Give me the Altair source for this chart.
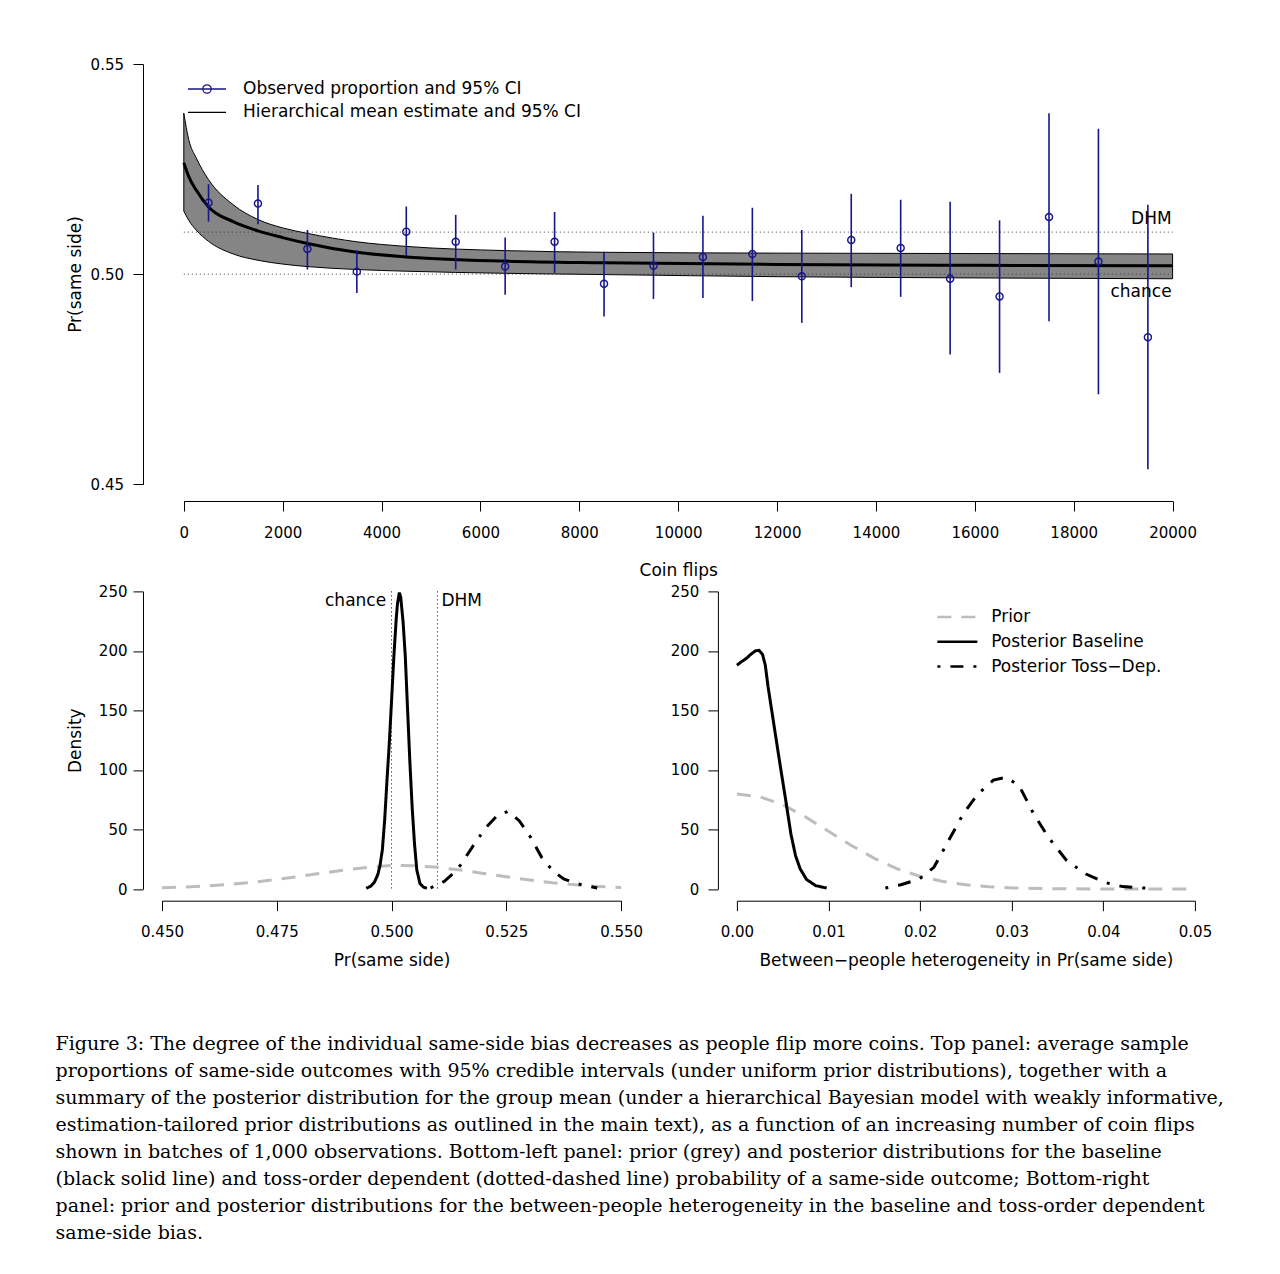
import altair as alt
import numpy as np
import pandas as pd

FONT = "DejaVu Sans"
SERIF = "DejaVu Serif"
NAVY = "#16168a"
BAND = "#858585"
PRIOR_GREY = "#bdbdbd"

# ---------------- top panel: observed batches of 1,000 flips ----------------
batch_mid = [500, 1500, 2500, 3500, 4500, 5500, 6500, 7500, 8500, 9500,
             10500, 11500, 12500, 13500, 14500, 15500, 16500, 17500, 18500, 19500]
obs_prop = [0.5170, 0.5168, 0.5060, 0.5006, 0.5101, 0.5077, 0.5018, 0.5077, 0.4977, 0.5020,
            0.5041, 0.5048, 0.4995, 0.5081, 0.5062, 0.4989, 0.4947, 0.5136, 0.5030, 0.4850]
obs_lo = [0.5125, 0.5119, 0.5011, 0.4955, 0.5042, 0.5011, 0.4951, 0.5003, 0.4899, 0.4941,
          0.4943, 0.4936, 0.4884, 0.4969, 0.4946, 0.4809, 0.4765, 0.4888, 0.4714, 0.4536]
obs_hi = [0.5214, 0.5212, 0.5105, 0.5057, 0.5161, 0.5141, 0.5087, 0.5148, 0.5053, 0.5099,
          0.5139, 0.5158, 0.5105, 0.5191, 0.5177, 0.5172, 0.5128, 0.5383, 0.5346, 0.5165]

# hierarchical mean estimate and 95% CI
hier_flips = [0, 100, 250, 500, 1000, 1500, 2000, 2500, 3500, 4500, 6500, 8500, 12000, 16000, 20000]
hier_mean = [0.5265, 0.5232, 0.5200, 0.5160, 0.5125, 0.5103, 0.5087, 0.5073, 0.5052, 0.5041,
             0.5031, 0.5027, 0.5023, 0.5021, 0.5020]
hier_lo = [0.5150, 0.5128, 0.5105, 0.5078, 0.5048, 0.5033, 0.5024, 0.5018, 0.5011, 0.5007,
           0.5002, 0.4999, 0.4994, 0.4991, 0.4989]
hier_hi = [0.5383, 0.5320, 0.5277, 0.5225, 0.5165, 0.5130, 0.5110, 0.5097, 0.5077, 0.5066,
           0.5056, 0.5052, 0.5050, 0.5049, 0.5048]

ref_names = ["DHM", "chance"]
ref_values = [0.51, 0.50]
flip_start = [0, 0]
flip_end = [20000, 20000]

top_legend_names = ["Observed proportion and 95% CI", "Hierarchical mean estimate and 95% CI"]

# ---------------- bottom-left: Pr(same side) densities ----------------
bl_prior_x = [0.450, 0.455, 0.460, 0.465, 0.470, 0.475, 0.480, 0.485, 0.490, 0.495, 0.500,
              0.505, 0.510, 0.515, 0.520, 0.525, 0.530, 0.535, 0.540, 0.545, 0.550]
bl_prior_d = [1.0, 1.6, 2.6, 4.0, 5.8, 8.0, 10.6, 13.4, 16.0, 18.3, 19.8,
              19.6, 18.2, 15.9, 13.1, 10.3, 7.6, 5.3, 3.5, 2.2, 1.3]
bl_base_x = [0.4945, 0.4955, 0.4963, 0.4970, 0.4975, 0.4980, 0.4985, 0.4990, 0.4995, 0.5000,
             0.5005, 0.5010, 0.5013, 0.5017, 0.5020, 0.5025, 0.5030, 0.5035, 0.5040, 0.5045,
             0.5050, 0.5055, 0.5062, 0.5070, 0.5077]
bl_base_d = [0.5, 2.5, 6, 12, 20, 33, 58, 91, 122, 158,
             195, 226, 240, 249, 245, 225, 195, 150, 106, 68,
             38, 16, 4.5, 1.5, 0.6]
bl_toss_x = [0.5085, 0.5097, 0.5115, 0.5133, 0.5150, 0.5166, 0.5186, 0.5206, 0.5230, 0.5254,
             0.5278, 0.5303, 0.5327, 0.5351, 0.5375, 0.5407, 0.5448]
bl_toss_d = [1.0, 2.8, 6.5, 12.6, 20, 29.4, 41, 51.8, 61.6, 65.2,
             57.4, 43.4, 26.6, 15.4, 8.4, 4.2, 0.8]

# ---------------- bottom-right: between-people heterogeneity ----------------
br_prior_x = [0.0, 0.0025, 0.005, 0.0075, 0.01, 0.0125, 0.015, 0.0175, 0.02, 0.0225,
              0.025, 0.0275, 0.03, 0.035, 0.04, 0.045, 0.05]
br_prior_d = [79.8, 77.5, 70.8, 60.5, 48.5, 36.5, 25.8, 17.0, 10.6, 6.3,
              3.5, 1.8, 0.9, 0.2, 0.05, 0.0, 0.0]
br_base_x = [0.0, 0.0005, 0.0010, 0.0015, 0.0020, 0.0024, 0.0028, 0.0031, 0.0034, 0.0037,
             0.0041, 0.0047, 0.0053, 0.0059, 0.0064, 0.0069, 0.0076, 0.0086, 0.0098]
br_base_d = [188, 191, 193.5, 197, 200, 200.5, 197, 188, 170, 155,
             135, 105, 76, 46, 28, 17, 8, 2.8, 0.8]
br_toss_x = [0.0162, 0.0179, 0.0199, 0.0215, 0.0231, 0.0247, 0.0263, 0.0280, 0.0294, 0.0308,
             0.0324, 0.0340, 0.0360, 0.0381, 0.0401, 0.0421, 0.0449]
br_toss_d = [0.8, 3.6, 8.4, 18.2, 40.6, 63, 79.8, 91.5, 93.8, 86.8,
             63, 43.4, 23.8, 12.6, 5.6, 2.0, 0.6]

dens_series = ["Prior", "Posterior Baseline", "Posterior Toss\u2212Dep."]

caption_lines = [
    "Figure 3: The degree of the individual same-side bias decreases as people flip more coins. Top panel: average sample",
    "proportions of same-side outcomes with 95% credible intervals (under uniform prior distributions), together with a",
    "summary of the posterior distribution for the group mean (under a hierarchical Bayesian model with weakly informative,",
    "estimation-tailored prior distributions as outlined in the main text), as a function of an increasing number of coin flips",
    "shown in batches of 1,000 observations. Bottom-left panel: prior (grey) and posterior distributions for the baseline",
    "(black solid line) and toss-order dependent (dotted-dashed line) probability of a same-side outcome; Bottom-right",
    "panel: prior and posterior distributions for the between-people heterogeneity in the baseline and toss-order dependent",
    "same-side bias.",
]

# ---------------- tables ----------------
obs_df = pd.DataFrame({"flips": batch_mid, "prop": obs_prop, "lo": obs_lo, "hi": obs_hi})
hier_df = pd.DataFrame({"flips": hier_flips, "mean": hier_mean, "lo": hier_lo, "hi": hier_hi})
ref_df = pd.DataFrame({"name": ref_names, "value": ref_values, "start": flip_start, "end": flip_end})
leg_df = pd.DataFrame({"series": top_legend_names, "flips": [np.nan] * 2, "prop": [np.nan] * 2})


def dens_table(xs, ds):
    rows = []
    for name, xv, dv in zip(dens_series, xs, ds):
        for a, b in zip(xv, dv):
            rows.append({"series": name, "x": a, "d": b})
    return pd.DataFrame(rows)


bl_df = dens_table([bl_prior_x, bl_base_x, bl_toss_x], [bl_prior_d, bl_base_d, bl_toss_d])
br_df = dens_table([br_prior_x, br_base_x, br_toss_x], [br_prior_d, br_base_d, br_toss_d])

# ---------------- top panel ----------------
xs_top = alt.Scale(domain=[0, 20000], range=[21.8, 1010.6], nice=False, zero=False)
ys_top = alt.Scale(domain=[0.45, 0.55], nice=False, zero=False)
ax_top_x = alt.Axis(title="Coin flips", values=list(range(0, 20001, 2000)), format="d",
                    offset=16.7, tickSize=10, labelPadding=14.2, labelFlush=False,
                    labelOverlap=False, titleY=74, titleBaseline="alphabetic", grid=False)
ax_top_y = alt.Axis(title="Pr(same side)", values=[0.45, 0.50, 0.55], format=".2f",
                    offset=19, tickSize=10, labelPadding=9.5, titleX=-62.5, titleY=210,
                    titleAngle=270, titleAlign="center", titleBaseline="alphabetic", grid=False)


def tx(f):
    return alt.X(f"{f}:Q", scale=xs_top, axis=ax_top_x)


def ty(f):
    return alt.Y(f"{f}:Q", scale=ys_top, axis=ax_top_y)


band = alt.Chart(hier_df).mark_area(fill=BAND, stroke="black", strokeWidth=1,
                                    interpolate="monotone").encode(x=tx("flips"), y=ty("lo"), y2="hi:Q")
refs = alt.Chart(ref_df).mark_rule(color="#3a3a3a", strokeDash=[1, 3], strokeWidth=1).encode(
    x=tx("start"), x2="end:Q", y=ty("value"))
mean_line = alt.Chart(hier_df).mark_line(color="black", strokeWidth=3,
                                         interpolate="monotone").encode(x=tx("flips"), y=ty("mean"))
ci = alt.Chart(obs_df).mark_rule(color=NAVY, strokeWidth=1.6).encode(x=tx("flips"), y=ty("lo"), y2="hi:Q")
pts = alt.Chart(obs_df).mark_point(filled=False, color=NAVY, size=50, strokeWidth=1.4, opacity=1).encode(
    x=tx("flips"), y=ty("prop"))
dhm_top = alt.Chart(ref_df).transform_filter(alt.datum.name == "DHM").mark_text(
    align="right", baseline="alphabetic", dx=-1, dy=-8, font=FONT, fontSize=17, color="black").encode(
    x=tx("end"), y=ty("value"), text="name:N")
chance_top = alt.Chart(ref_df).transform_filter(alt.datum.name == "chance").mark_text(
    align="right", baseline="alphabetic", dx=-1, dy=22.7, font=FONT, fontSize=17, color="black").encode(
    x=tx("end"), y=ty("value"), text="name:N")

PATH_OBS = "M-1.9,0H1.9M-0.42,0A0.42,0.42,0,1,1,0.42,0A0.42,0.42,0,1,1,-0.42,0"
PATH_LINE = "M-1.9,0H1.9"
leg_top = alt.Legend(title=None, orient="none", legendX=34, legendY=14, symbolSize=400,
                     symbolStrokeWidth=1.3, symbolOpacity=1, labelFont=FONT, labelFontSize=17,
                     labelColor="black", labelOffset=25, rowPadding=4.3, padding=0, labelLimit=600)
legend_layer = alt.Chart(leg_df).mark_point(filled=False, strokeWidth=1.3, opacity=1).encode(
    x=tx("flips"), y=ty("prop"),
    color=alt.Color("series:N", scale=alt.Scale(domain=top_legend_names, range=[NAVY, "black"]), legend=leg_top),
    shape=alt.Shape("series:N", scale=alt.Scale(domain=top_legend_names, range=[PATH_OBS, PATH_LINE]), legend=leg_top),
)

top = alt.layer(band, refs, mean_line, ci, pts, dhm_top, chance_top, legend_layer).properties(
    width=1010.6, height=420.3)

# ---------------- bottom panels ----------------
ys_b = alt.Scale(domain=[0, 250], nice=False, zero=False)
dens_color = alt.Scale(domain=dens_series, range=[PRIOR_GREY, "black", "black"])
dens_dash = alt.Scale(domain=dens_series, range=[[14, 10], [1, 0], [3, 10, 13, 10]])

xs_bl = alt.Scale(domain=[0.45, 0.55], nice=False, zero=False)
ax_bl_x = alt.Axis(title="Pr(same side)", values=[0.45, 0.475, 0.50, 0.525, 0.55], format=".3f",
                   offset=11.7, tickSize=10, labelPadding=14, labelFlush=False, labelOverlap=False,
                   titleY=64.3, titleBaseline="alphabetic", grid=False)
ax_bl_y = alt.Axis(title="Density", values=[0, 50, 100, 150, 200, 250], offset=19, tickSize=10,
                   labelPadding=6, titleX=-62.5, titleY=148.8, titleAngle=270, titleAlign="center",
                   titleBaseline="alphabetic", grid=False)

bl_lines = alt.Chart(bl_df).mark_line(strokeWidth=3).encode(
    x=alt.X("x:Q", scale=xs_bl, axis=ax_bl_x),
    y=alt.Y("d:Q", scale=ys_b, axis=ax_bl_y),
    color=alt.Color("series:N", scale=dens_color, legend=None),
    strokeDash=alt.StrokeDash("series:N", scale=dens_dash, legend=None),
)
bl_refs = alt.Chart(ref_df).mark_rule(color="black", strokeDash=[1, 3], strokeWidth=1).encode(
    x=alt.X("value:Q", scale=xs_bl, axis=ax_bl_x))
bl_chance = alt.Chart(ref_df).transform_filter(alt.datum.name == "chance").mark_text(
    align="right", baseline="alphabetic", dx=-5.4, dy=14.3, font=FONT, fontSize=17, color="black").encode(
    x=alt.X("value:Q", scale=xs_bl, axis=ax_bl_x), y=alt.value(0), text="name:N")
bl_dhm = alt.Chart(ref_df).transform_filter(alt.datum.name == "DHM").mark_text(
    align="left", baseline="alphabetic", dx=4, dy=14.3, font=FONT, fontSize=17, color="black").encode(
    x=alt.X("value:Q", scale=xs_bl, axis=ax_bl_x), y=alt.value(0), text="name:N")

bl = alt.layer(bl_refs, bl_lines, bl_chance, bl_dhm).properties(width=459.1, height=297.6)

xs_br = alt.Scale(domain=[0, 0.05], nice=False, zero=False)
ax_br_x = alt.Axis(title="Between\u2212people heterogeneity in Pr(same side)",
                   values=[0, 0.01, 0.02, 0.03, 0.04, 0.05], format=".2f", offset=11.7, tickSize=10,
                   labelPadding=14, labelFlush=False, labelOverlap=False, titleY=64.3,
                   titleBaseline="alphabetic", grid=False)
ax_br_y = alt.Axis(title=None, values=[0, 50, 100, 150, 200, 250], offset=19, tickSize=10,
                   labelPadding=9, grid=False)
leg_br = alt.Legend(title=None, orient="none", legendX=209, legendY=14, symbolType="M-2,0H2",
                    symbolSize=400, symbolStrokeWidth=2.5, labelFont=FONT, labelFontSize=17,
                    labelColor="black", labelOffset=22.3, rowPadding=4.8, padding=0, labelLimit=600)
br = alt.Chart(br_df).mark_line(strokeWidth=3).encode(
    x=alt.X("x:Q", scale=xs_br, axis=ax_br_x),
    y=alt.Y("d:Q", scale=ys_b, axis=ax_br_y),
    color=alt.Color("series:N", scale=dens_color, legend=leg_br),
    strokeDash=alt.StrokeDash("series:N", scale=dens_dash, legend=leg_br),
).properties(width=458.1, height=297.6)

bottom = alt.hconcat(bl, br, spacing=114.9, bounds="flush").resolve_scale(
    color="independent", strokeDash="independent"
).resolve_legend(color="independent", strokeDash="independent")

caption = alt.TitleParams(text=caption_lines, orient="bottom", anchor="start", frame="group",
                          font=SERIF, fontSize=19, fontWeight="normal", color="black",
                          lineHeight=27, baseline="alphabetic", offset=81.6, dx=-106.4)

chart = alt.vconcat(top, bottom, spacing=106.4, bounds="flush").properties(
    title=caption, padding={"left": 47, "top": 49, "right": 5, "bottom": 5}, background="white"
).resolve_scale(
    color="independent", shape="independent", strokeDash="independent"
).resolve_legend(
    color="independent", shape="independent", strokeDash="independent"
).configure_view(strokeWidth=0).configure_axis(
    domainColor="black", tickColor="black", labelColor="black", titleColor="black",
    labelFont=FONT, titleFont=FONT, labelFontSize=15, titleFontSize=17,
    titleFontWeight="normal", domainWidth=1, tickWidth=1
)

chart.save("out.html", embed_options={"renderer": "svg", "actions": False})
